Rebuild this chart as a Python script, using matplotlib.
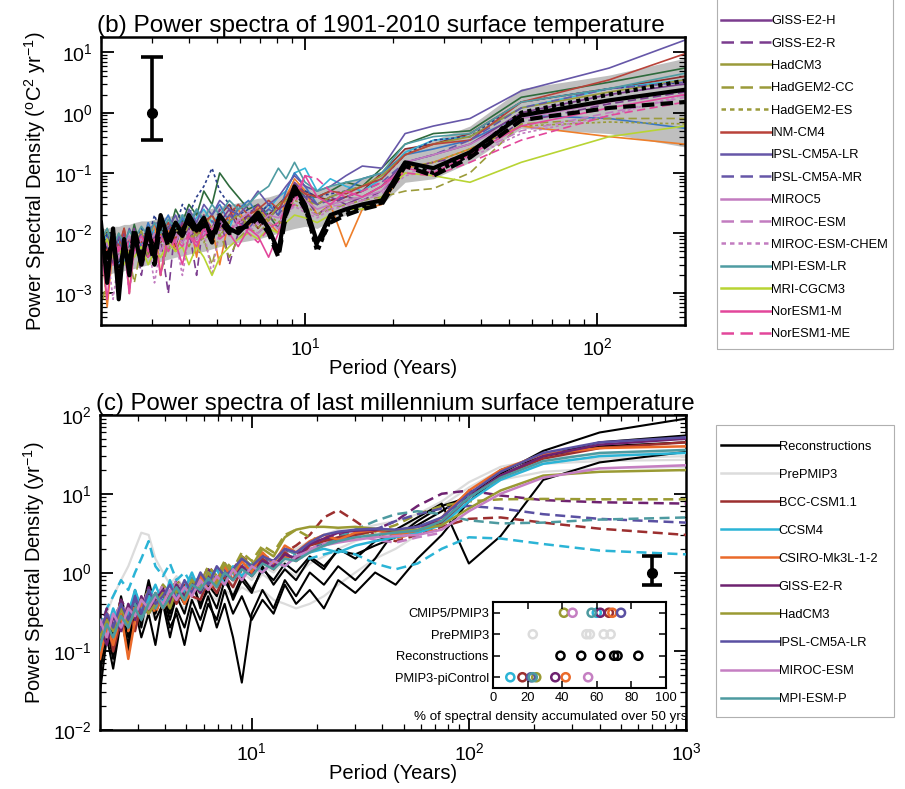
import numpy as np
import matplotlib
matplotlib.use("Agg")
import matplotlib.pyplot as plt
from matplotlib.lines import Line2D
from matplotlib.patches import Rectangle

plt.rcParams['font.family'] = ['Liberation Sans', 'DejaVu Sans']
plt.rcParams['mathtext.fontset'] = 'custom'
plt.rcParams['mathtext.rm'] = 'Liberation Sans'
plt.rcParams['mathtext.it'] = 'Liberation Sans:italic'
plt.rcParams['mathtext.bf'] = 'Liberation Sans:bold'

# ---------------- panel (b) data ----------------
period_b = [2.0, 2.1, 2.2, 2.3, 2.4, 2.5, 2.6, 2.75, 2.9, 3.05, 3.2, 3.4, 3.6, 3.8, 4.0, 4.25, 4.5, 4.8, 5.1, 5.5,
            5.9, 6.4, 6.9, 7.5, 8.1, 8.6, 9.2, 10.0, 11.0, 12.2, 13.8, 15.7, 18.3, 22.0, 27.5, 36.7, 55.0, 110.0, 200.0]

obs_solid = [0.015, 0.0015, 0.012, 0.0008, 0.008, 0.002, 0.01, 0.003, 0.012, 0.004, 0.02, 0.008, 0.015, 0.01, 0.02, 0.012, 0.018, 0.008, 0.02, 0.012,
             0.01, 0.015, 0.022, 0.012, 0.005, 0.025, 0.06, 0.03, 0.007, 0.02, 0.025, 0.03, 0.035, 0.15, 0.12, 0.22, 0.9, 1.6, 2.4]
obs_dashed = [0.01, 0.004, 0.008, 0.002, 0.006, 0.003, 0.012, 0.004, 0.009, 0.003, 0.015, 0.006, 0.012, 0.009, 0.015, 0.01, 0.014, 0.007, 0.016, 0.01,
              0.012, 0.013, 0.018, 0.01, 0.004, 0.02, 0.05, 0.025, 0.006, 0.015, 0.02, 0.025, 0.03, 0.13, 0.09, 0.18, 0.75, 1.2, 1.5]
obs_dotted = [0.012, 0.003, 0.01, 0.0015, 0.007, 0.0025, 0.01, 0.003, 0.011, 0.005, 0.018, 0.007, 0.013, 0.011, 0.018, 0.011, 0.016, 0.009, 0.018, 0.011,
              0.011, 0.014, 0.02, 0.011, 0.0045, 0.022, 0.055, 0.028, 0.005, 0.017, 0.022, 0.028, 0.032, 0.14, 0.1, 0.2, 1.0, 2.0, 3.4]

band_lo = [0.002, 0.002, 0.0022, 0.0022, 0.0024, 0.0025, 0.0026, 0.0028, 0.003, 0.0032, 0.0034, 0.0037, 0.004, 0.0042, 0.0045, 0.0048, 0.005, 0.0055, 0.006, 0.0065,
           0.007, 0.0075, 0.008, 0.009, 0.01, 0.011, 0.012, 0.013, 0.012, 0.016, 0.02, 0.024, 0.03, 0.07, 0.08, 0.15, 0.55, 0.45, 0.27]
band_hi = [0.012, 0.012, 0.013, 0.013, 0.014, 0.014, 0.015, 0.016, 0.016, 0.017, 0.018, 0.019, 0.02, 0.021, 0.022, 0.023, 0.024, 0.026, 0.028, 0.03,
           0.032, 0.035, 0.038, 0.04, 0.045, 0.05, 0.07, 0.065, 0.05, 0.06, 0.07, 0.085, 0.1, 0.25, 0.35, 0.6, 2.5, 4.2, 8.0]

access10 = [0.015, 0.005, 0.012, 0.004, 0.009, 0.006, 0.014, 0.005, 0.01, 0.007, 0.02, 0.009, 0.025, 0.015, 0.03, 0.02, 0.05, 0.03, 0.1, 0.06,
            0.04, 0.025, 0.03, 0.02, 0.012, 0.03, 0.06, 0.04, 0.04, 0.05, 0.07, 0.06, 0.12, 0.3, 0.45, 0.5, 1.8, 3.2, 5.5]
bcccsm11 = [0.012, 0.004, 0.009, 0.005, 0.012, 0.003, 0.008, 0.006, 0.004, 0.01, 0.007, 0.013, 0.006, 0.015, 0.01, 0.008, 0.016, 0.012, 0.02, 0.03,
            0.015, 0.02, 0.012, 0.02, 0.03, 0.04, 0.06, 0.05, 0.04, 0.035, 0.04, 0.05, 0.1, 0.25, 0.3, 0.45, 1.5, 2.5, 4.0]
ccsm4_b = [0.006, 0.01, 0.004, 0.008, 0.003, 0.007, 0.005, 0.01, 0.006, 0.012, 0.008, 0.015, 0.01, 0.02, 0.012, 0.018, 0.025, 0.015, 0.02, 0.012,
           0.03, 0.02, 0.015, 0.025, 0.04, 0.05, 0.1, 0.12, 0.05, 0.08, 0.06, 0.05, 0.08, 0.22, 0.35, 0.4, 1.2, 2.5, 3.5]
csiro36 = [0.008, 0.0006, 0.006, 0.002, 0.012, 0.001, 0.008, 0.003, 0.007, 0.015, 0.002, 0.012, 0.005, 0.009, 0.02, 0.004, 0.02, 0.012, 0.003, 0.018,
           0.025, 0.012, 0.03, 0.015, 0.01, 0.04, 0.08, 0.05, 0.02, 0.03, 0.006, 0.025, 0.03, 0.12, 0.15, 0.25, 0.6, 0.4, 0.3]
gfdlcm3 = [0.01, 0.006, 0.012, 0.003, 0.008, 0.005, 0.01, 0.006, 0.015, 0.008, 0.012, 0.02, 0.01, 0.018, 0.012, 0.025, 0.015, 0.02, 0.03, 0.015,
           0.025, 0.035, 0.02, 0.03, 0.02, 0.05, 0.1, 0.06, 0.03, 0.04, 0.05, 0.08, 0.1, 0.2, 0.25, 0.35, 0.9, 0.8, 0.55]
gfdlesm2m = [0.006, 0.01, 0.004, 0.008, 0.005, 0.009, 0.006, 0.012, 0.008, 0.02, 0.01, 0.015, 0.012, 0.03, 0.02, 0.04, 0.06, 0.12, 0.05, 0.03,
             0.02, 0.025, 0.02, 0.03, 0.025, 0.04, 0.06, 0.05, 0.04, 0.045, 0.05, 0.06, 0.08, 0.2, 0.35, 0.4, 1.5, 2.5, 3.2]
gisse2h = [0.005, 0.008, 0.003, 0.006, 0.01, 0.004, 0.007, 0.003, 0.005, 0.009, 0.012, 0.006, 0.01, 0.015, 0.008, 0.012, 0.02, 0.01, 0.015, 0.025,
           0.012, 0.02, 0.03, 0.018, 0.025, 0.03, 0.07, 0.045, 0.03, 0.04, 0.03, 0.04, 0.06, 0.15, 0.2, 0.3, 1.0, 2.0, 3.0]
gisse2r = [0.008, 0.003, 0.006, 0.0008, 0.008, 0.005, 0.012, 0.002, 0.009, 0.004, 0.008, 0.001, 0.015, 0.007, 0.012, 0.002, 0.018, 0.012, 0.025, 0.003,
           0.01, 0.02, 0.015, 0.02, 0.012, 0.025, 0.045, 0.04, 0.02, 0.03, 0.04, 0.035, 0.05, 0.12, 0.15, 0.2, 0.7, 1.4, 2.2]
hadcm3_b = [0.007, 0.012, 0.005, 0.01, 0.004, 0.008, 0.006, 0.011, 0.004, 0.007, 0.01, 0.005, 0.012, 0.008, 0.014, 0.009, 0.013, 0.02, 0.011, 0.016,
            0.02, 0.014, 0.025, 0.016, 0.03, 0.035, 0.05, 0.035, 0.03, 0.04, 0.05, 0.06, 0.09, 0.2, 0.3, 0.4, 1.2, 2.2, 3.5]
hadgem2cc = [0.0005, 0.002, 0.005, 0.001, 0.006, 0.004, 0.0015, 0.006, 0.005, 0.008, 0.002, 0.007, 0.005, 0.009, 0.006, 0.011, 0.008, 0.003, 0.01, 0.004,
             0.008, 0.012, 0.01, 0.015, 0.012, 0.02, 0.03, 0.025, 0.02, 0.025, 0.03, 0.035, 0.04, 0.05, 0.055, 0.1, 0.65, 0.8, 0.8]
hadgem2es = [0.006, 0.003, 0.008, 0.004, 0.007, 0.005, 0.009, 0.004, 0.006, 0.01, 0.007, 0.005, 0.009, 0.012, 0.008, 0.011, 0.007, 0.013, 0.009, 0.015,
             0.011, 0.018, 0.012, 0.02, 0.015, 0.022, 0.035, 0.03, 0.02, 0.03, 0.035, 0.04, 0.06, 0.12, 0.15, 0.25, 0.6, 0.7, 0.65]
inmcm4 = [0.009, 0.005, 0.01, 0.006, 0.012, 0.004, 0.009, 0.007, 0.012, 0.006, 0.01, 0.015, 0.008, 0.013, 0.018, 0.01, 0.015, 0.02, 0.012, 0.02,
          0.03, 0.02, 0.025, 0.035, 0.025, 0.04, 0.06, 0.045, 0.04, 0.05, 0.045, 0.06, 0.08, 0.2, 0.3, 0.35, 1.5, 3.5, 9.5]
ipslcm5alr = [0.01, 0.006, 0.004, 0.009, 0.006, 0.012, 0.008, 0.005, 0.01, 0.015, 0.008, 0.012, 0.02, 0.01, 0.025, 0.015, 0.03, 0.02, 0.035, 0.025,
              0.02, 0.03, 0.05, 0.03, 0.04, 0.06, 0.09, 0.06, 0.05, 0.06, 0.09, 0.13, 0.12, 0.45, 0.6, 0.8, 2.3, 5.5, 16.0]
ipslcm5amr = [0.006, 0.009, 0.004, 0.007, 0.005, 0.008, 0.006, 0.01, 0.007, 0.005, 0.009, 0.013, 0.007, 0.011, 0.009, 0.014, 0.01, 0.016, 0.012, 0.02,
              0.015, 0.012, 0.018, 0.025, 0.02, 0.03, 0.05, 0.04, 0.03, 0.035, 0.04, 0.05, 0.07, 0.15, 0.2, 0.35, 1.2, 2.5, 3.2]
miroc5 = [0.005, 0.003, 0.007, 0.004, 0.006, 0.009, 0.005, 0.008, 0.006, 0.01, 0.005, 0.009, 0.007, 0.012, 0.009, 0.014, 0.01, 0.012, 0.018, 0.01,
          0.016, 0.022, 0.014, 0.02, 0.018, 0.025, 0.04, 0.035, 0.025, 0.03, 0.035, 0.04, 0.05, 0.15, 0.2, 0.3, 0.8, 1.5, 2.5]
mirocesm = [0.004, 0.007, 0.003, 0.005, 0.004, 0.006, 0.005, 0.003, 0.007, 0.005, 0.008, 0.006, 0.01, 0.007, 0.011, 0.008, 0.012, 0.009, 0.014, 0.011,
            0.017, 0.013, 0.01, 0.015, 0.012, 0.02, 0.03, 0.025, 0.02, 0.028, 0.03, 0.035, 0.045, 0.1, 0.12, 0.2, 0.5, 1.0, 1.8]
mirocesmchem = [0.003, 0.005, 0.0008, 0.004, 0.006, 0.001, 0.005, 0.004, 0.007, 0.0015, 0.006, 0.005, 0.008, 0.002, 0.009, 0.007, 0.011, 0.002, 0.012, 0.009,
                0.014, 0.011, 0.016, 0.012, 0.015, 0.02, 0.028, 0.022, 0.018, 0.025, 0.028, 0.03, 0.04, 0.09, 0.11, 0.18, 0.45, 0.9, 2.0]
mpiesmlr = [0.008, 0.012, 0.006, 0.01, 0.007, 0.011, 0.008, 0.013, 0.009, 0.015, 0.01, 0.017, 0.012, 0.02, 0.014, 0.025, 0.017, 0.03, 0.02, 0.035,
            0.025, 0.03, 0.045, 0.06, 0.12, 0.08, 0.15, 0.07, 0.05, 0.06, 0.07, 0.08, 0.1, 0.3, 0.4, 0.45, 1.5, 2.5, 4.5]
mricgcm3 = [0.005, 0.008, 0.004, 0.006, 0.003, 0.005, 0.004, 0.006, 0.003, 0.005, 0.004, 0.007, 0.005, 0.006, 0.003, 0.006, 0.004, 0.002, 0.004, 0.006,
            0.008, 0.01, 0.008, 0.012, 0.01, 0.015, 0.02, 0.018, 0.015, 0.02, 0.025, 0.025, 0.04, 0.1, 0.09, 0.07, 0.15, 0.4, 0.6]
noresm1m = [0.006, 0.0008, 0.008, 0.005, 0.007, 0.001, 0.006, 0.009, 0.005, 0.008, 0.002, 0.01, 0.007, 0.003, 0.009, 0.006, 0.012, 0.008, 0.014, 0.01,
            0.006, 0.012, 0.009, 0.004, 0.01, 0.02, 0.04, 0.09, 0.04, 0.03, 0.05, 0.04, 0.06, 0.12, 0.1, 0.2, 0.6, 1.2, 2.0]
noresm1me = [0.007, 0.005, 0.003, 0.006, 0.004, 0.008, 0.005, 0.007, 0.004, 0.006, 0.009, 0.005, 0.008, 0.006, 0.01, 0.007, 0.009, 0.012, 0.008, 0.011,
             0.015, 0.01, 0.007, 0.012, 0.015, 0.025, 0.03, 0.09, 0.08, 0.05, 0.04, 0.05, 0.07, 0.1, 0.09, 0.15, 0.35, 0.9, 1.5]

models_b = ["ACCESS1-0", "BCC-CSM1-1", "CCSM4", "CSIRO-Mk3-6-0", "GFDL-CM3", "GFDL-ESM2M",
            "GISS-E2-H", "GISS-E2-R", "HadCM3", "HadGEM2-CC", "HadGEM2-ES", "INM-CM4",
            "IPSL-CM5A-LR", "IPSL-CM5A-MR", "MIROC5", "MIROC-ESM", "MIROC-ESM-CHEM",
            "MPI-ESM-LR", "MRI-CGCM3", "NorESM1-M", "NorESM1-ME"]
values_b = [access10, bcccsm11, ccsm4_b, csiro36, gfdlcm3, gfdlesm2m, gisse2h, gisse2r, hadcm3_b,
            hadgem2cc, hadgem2es, inmcm4, ipslcm5alr, ipslcm5amr, miroc5, mirocesm, mirocesmchem,
            mpiesmlr, mricgcm3, noresm1m, noresm1me]
legend_b = models_b[6:]      # entries visible in the (cropped) legend
errbar_b = [3.0, 1.0, 0.35, 8.3]   # x, centre, low, high

# ---------------- panel (c) data ----------------
period_c = [2.0, 2.15, 2.3, 2.5, 2.7, 2.9, 3.1, 3.35, 3.6, 3.9, 4.2, 4.5, 4.9, 5.3, 5.8, 6.3, 6.9, 7.5, 8.2, 9.0,
            10.0, 11.2, 12.6, 14.2, 16.0, 18.5, 21.5, 25.0, 30.0, 37.0, 46.0, 58.0, 75.0, 100.0, 140.0, 220.0, 400.0, 1000.0]

recon1 = [0.05, 0.2, 0.08, 0.3, 0.12, 0.5, 0.2, 0.6, 0.25, 0.4, 0.15, 0.35, 0.2, 0.45, 0.25, 0.5, 0.2, 0.4, 0.15, 0.04,
          0.3, 0.6, 0.35, 0.8, 0.5, 1.0, 0.7, 1.2, 0.8, 1.5, 3.5, 5.0, 7.5, 1.3, 2.9, 15.0, 25.0, 34.0]
recon2 = [0.1, 0.3, 0.15, 0.5, 0.2, 0.6, 0.3, 0.8, 0.35, 0.7, 0.3, 0.6, 0.4, 0.9, 0.35, 0.7, 0.5, 1.0, 0.45, 0.8,
          0.55, 1.2, 0.7, 1.1, 0.8, 1.5, 1.1, 2.0, 1.5, 2.5, 3.0, 4.0, 6.0, 10.0, 18.0, 35.0, 60.0, 90.0]
recon3 = [0.03, 0.15, 0.06, 0.25, 0.1, 0.35, 0.15, 0.3, 0.12, 0.45, 0.2, 0.3, 0.12, 0.35, 0.18, 0.4, 0.25, 0.6, 0.3, 0.5,
          0.25, 0.45, 0.3, 0.7, 0.4, 0.6, 0.35, 0.8, 0.55, 1.0, 0.7, 1.5, 3.0, 8.0, 17.0, 30.0, 45.0, 55.0]
recon4 = [0.08, 0.25, 0.1, 0.4, 0.15, 0.5, 0.25, 0.7, 0.3, 0.55, 0.25, 0.5, 0.3, 0.7, 0.4, 0.6, 0.35, 0.8, 0.5, 0.9,
          0.6, 1.1, 0.8, 1.3, 1.0, 1.6, 1.2, 1.9, 1.7, 2.2, 2.8, 4.5, 7.0, 9.0, 20.0, 30.0, 40.0, 45.0]

pre1 = [0.2, 0.3, 0.5, 0.8, 1.2, 2.0, 3.2, 3.0, 1.5, 1.0, 0.7, 0.9, 0.6, 0.8, 0.7, 1.0, 0.8, 1.1, 0.9, 1.3,
        1.0, 1.4, 1.2, 1.8, 2.0, 2.5, 3.0, 3.5, 3.2, 3.0, 3.5, 4.5, 7.0, 12.0, 20.0, 26.0, 28.0, 30.0]
pre2 = [0.1, 0.2, 0.12, 0.25, 0.15, 0.3, 0.2, 0.35, 0.25, 0.4, 0.3, 0.45, 0.35, 0.5, 0.4, 0.55, 0.45, 0.6, 0.5, 0.65,
        0.55, 0.6, 0.45, 0.4, 0.35, 0.4, 0.5, 0.7, 1.0, 1.5, 2.0, 3.0, 5.0, 10.0, 18.0, 24.0, 26.0, 27.0]
pre3 = [0.15, 0.25, 0.18, 0.3, 0.22, 0.35, 0.28, 0.45, 0.32, 0.5, 0.4, 0.55, 0.45, 0.7, 0.5, 0.8, 0.6, 0.9, 0.7, 1.0,
        0.8, 1.2, 1.0, 1.4, 1.5, 1.8, 2.2, 2.8, 3.5, 4.0, 4.5, 5.5, 8.0, 14.0, 22.0, 28.0, 32.0, 34.0]
pre4 = [0.12, 0.2, 0.15, 0.25, 0.2, 0.3, 0.25, 0.4, 0.3, 0.45, 0.35, 0.5, 0.4, 0.6, 0.45, 0.65, 0.5, 0.75, 0.55, 0.85,
        0.65, 0.95, 0.75, 1.1, 0.9, 1.3, 1.6, 2.0, 2.5, 3.0, 3.5, 4.0, 6.0, 10.0, 15.0, 19.0, 21.0, 22.0]

bcc_pm = [0.12, 0.3, 0.1, 0.25, 0.35, 0.18, 0.4, 0.3, 0.55, 0.35, 0.6, 0.4, 0.7, 0.5, 0.45, 0.8, 0.55, 0.9, 0.65, 1.1,
          1.0, 1.5, 1.1, 1.8, 1.4, 2.2, 2.5, 2.8, 3.0, 3.4, 3.2, 3.3, 4.2, 9.0, 17.0, 28.0, 38.0, 45.0]
ccsm4_pm = [0.1, 0.18, 0.35, 0.2, 0.3, 0.6, 0.35, 0.45, 0.7, 0.4, 0.8, 0.5, 0.6, 1.0, 0.55, 0.8, 1.1, 0.7, 1.2, 0.9,
            1.3, 1.0, 1.4, 1.2, 1.6, 1.8, 2.0, 1.8, 2.2, 2.5, 2.8, 3.2, 4.0, 8.0, 15.0, 24.0, 30.0, 33.0]
csiro_pm = [0.08, 0.2, 0.12, 0.3, 0.08, 0.25, 0.4, 0.3, 0.5, 0.35, 0.45, 0.7, 0.4, 0.6, 0.9, 0.6, 0.8, 1.2, 0.8, 1.4,
            1.0, 1.8, 1.3, 2.2, 1.8, 2.5, 3.0, 2.6, 3.2, 3.5, 3.0, 3.4, 5.0, 11.0, 20.0, 32.0, 38.0, 40.0]
giss_pm = [0.2, 0.12, 0.28, 0.18, 0.4, 0.25, 0.5, 0.3, 0.45, 0.6, 0.4, 0.7, 0.5, 0.75, 0.55, 0.9, 0.7, 1.0, 0.8, 1.2,
           0.9, 1.4, 1.2, 1.7, 1.5, 2.3, 2.7, 3.2, 3.4, 3.5, 3.4, 3.8, 4.5, 9.0, 17.0, 30.0, 42.0, 50.0]
hadcm3_pm = [0.15, 0.25, 0.18, 0.35, 0.22, 0.3, 0.45, 0.3, 0.4, 0.55, 0.35, 0.6, 0.45, 0.8, 0.6, 1.0, 0.7, 1.3, 1.0, 1.6,
             1.2, 2.0, 1.6, 2.8, 3.5, 3.8, 3.8, 3.7, 3.8, 3.6, 3.4, 3.5, 4.0, 6.5, 11.0, 17.0, 19.0, 20.0]
ipsl_pm = [0.18, 0.3, 0.2, 0.4, 0.25, 0.5, 0.3, 0.6, 0.4, 0.5, 0.7, 0.45, 0.8, 0.55, 1.0, 0.7, 1.2, 0.9, 1.1, 1.5,
           1.2, 1.6, 1.4, 2.0, 1.8, 2.4, 3.0, 3.3, 3.5, 3.6, 3.5, 3.8, 5.0, 10.0, 19.0, 33.0, 45.0, 52.0]
miroc_pm = [0.25, 0.15, 0.3, 0.2, 0.35, 0.28, 0.45, 0.35, 0.5, 0.4, 0.6, 0.45, 0.65, 0.5, 0.8, 0.6, 0.9, 0.7, 1.1, 0.8,
            1.2, 1.0, 1.4, 1.2, 1.6, 1.9, 2.2, 2.4, 2.6, 2.8, 2.9, 3.0, 3.5, 6.0, 10.0, 16.0, 21.0, 23.0]
mpi_pm = [0.12, 0.22, 0.15, 0.28, 0.2, 0.35, 0.25, 0.4, 0.55, 0.35, 0.5, 0.65, 0.45, 0.7, 0.6, 0.85, 0.65, 1.0, 0.8, 1.1,
          0.9, 1.3, 1.1, 1.5, 1.4, 1.8, 2.2, 2.5, 2.8, 3.0, 3.2, 3.4, 4.5, 9.0, 16.0, 26.0, 33.0, 36.0]

bcc_ctl = [0.15, 0.3, 0.2, 0.45, 0.25, 0.5, 0.35, 0.6, 0.4, 0.7, 0.5, 0.8, 0.6, 0.9, 0.7, 1.2, 0.9, 1.3, 1.1, 1.6,
           1.3, 1.5, 1.4, 1.8, 2.2, 3.0, 5.0, 6.2, 4.5, 3.0, 2.5, 3.0, 3.8, 4.8, 5.0, 4.3, 3.6, 3.0]
ccsm4_ctl = [0.2, 0.35, 0.5, 0.8, 0.6, 1.0, 1.5, 2.5, 1.2, 0.9, 1.3, 0.8, 1.0, 0.7, 0.9, 1.1, 0.8, 1.2, 0.9, 1.3,
             1.1, 1.5, 1.3, 1.8, 1.6, 1.5, 1.7, 1.9, 1.7, 1.3, 1.1, 1.3, 2.0, 2.8, 2.7, 2.3, 1.9, 1.7]
csiro_ctl = [0.1, 0.25, 0.12, 0.3, 0.18, 0.4, 0.25, 0.5, 0.3, 0.55, 0.4, 0.65, 0.45, 0.75, 0.55, 0.9, 0.65, 1.0, 0.8, 1.2,
             0.9, 1.4, 1.1, 1.6, 1.4, 1.9, 2.2, 2.5, 2.8, 3.0, 2.7, 3.2, 3.5]
giss_ctl = [0.18, 0.35, 0.22, 0.45, 0.3, 0.55, 0.35, 0.65, 0.4, 0.7, 0.5, 0.8, 0.6, 0.9, 0.7, 1.1, 0.8, 1.3, 1.0, 1.5,
            1.2, 1.7, 1.4, 2.0, 1.7, 2.3, 2.6, 3.0, 3.2, 3.5, 4.5, 7.0, 10.0, 11.0, 9.5, 8.3, 7.8, 7.5]
hadcm3_ctl = [0.2, 0.3, 0.25, 0.4, 0.3, 0.5, 0.4, 0.6, 0.45, 0.7, 0.55, 0.8, 0.6, 0.9, 0.7, 1.2, 0.9, 1.4, 1.1, 1.8,
              1.4, 2.2, 1.8, 3.0, 3.5, 2.8, 2.5, 2.6, 3.0, 3.3, 4.0, 5.5, 7.0, 8.0, 8.5, 8.6, 8.5, 8.5]
ipsl_ctl = [0.15, 0.25, 0.2, 0.35, 0.25, 0.45, 0.3, 0.55, 0.35, 0.6, 0.45, 0.7, 0.5, 0.8, 0.6, 0.95, 0.7, 1.1, 0.85, 1.3,
            1.0, 1.5, 1.2, 1.7, 1.5, 2.0, 2.3, 2.6, 3.0, 3.5, 4.5, 5.5, 6.5, 7.0, 6.5, 5.5, 4.8, 4.3]
miroc_ctl = [0.2, 0.3, 0.25, 0.4, 0.3, 0.5, 0.35, 0.6, 0.45, 0.7, 0.5, 0.8, 0.6, 0.9, 0.7, 1.0, 0.8, 1.2, 0.9, 1.3,
             1.1, 1.5, 1.3, 1.8, 1.6, 2.0, 2.3, 2.7, 3.0, 2.6, 2.4, 2.8, 3.2]
mpi_ctl = [0.12, 0.2, 0.15, 0.3, 0.2, 0.4, 0.28, 0.5, 0.35, 0.6, 0.45, 0.7, 0.55, 0.85, 0.65, 1.0, 0.8, 1.2, 0.95, 1.4,
           1.1, 1.7, 1.3, 2.0, 1.7, 2.5, 2.2, 2.8, 3.5, 4.5, 5.5, 6.0, 5.5, 4.6, 4.2, 4.3, 4.7, 5.0]

models_c = ["BCC-CSM1.1", "CCSM4", "CSIRO-Mk3L-1-2", "GISS-E2-R", "HadCM3", "IPSL-CM5A-LR", "MIROC-ESM", "MPI-ESM-P"]
pmip3_c = [bcc_pm, ccsm4_pm, csiro_pm, giss_pm, hadcm3_pm, ipsl_pm, miroc_pm, mpi_pm]
control_c = [bcc_ctl, ccsm4_ctl, csiro_ctl, giss_ctl, hadcm3_ctl, ipsl_ctl, miroc_ctl, mpi_ctl]
recons_c = [recon1, recon2, recon3, recon4]
prepmip3_c = [pre1, pre2, pre3, pre4]
errbar_c = [700.0, 1.0, 0.7, 1.64]

# inset: % of spectral density accumulated over 50 yrs
inset_rows = ["PMIP3-piControl", "Reconstructions", "PrePMIP3", "CMIP5/PMIP3"]
pct_cmip5 = [67, 60, 69, 62, 41, 74, 46, 57]        # order of models_c
pct_control = [17, 10, 42, 36, 25, 22, 55, 23]      # order of models_c
pct_prepmip3 = [23, 54, 56, 64, 68]
pct_recons = [39, 51, 62, 70, 72, 84]

# ---------------- styles ----------------
col_b = {"ACCESS1-0": "#2e6a3c", "BCC-CSM1-1": "#8c2c2c", "CCSM4": "#35b4d9", "CSIRO-Mk3-6-0": "#ee7e2a",
         "GFDL-CM3": "#3b78c2", "GFDL-ESM2M": "#2c3f8c", "GISS-E2-H": "#7b3c8e", "GISS-E2-R": "#7b3c8e",
         "HadCM3": "#9b9b3a", "HadGEM2-CC": "#9b9b3a", "HadGEM2-ES": "#9b9b3a", "INM-CM4": "#b9433a",
         "IPSL-CM5A-LR": "#6657a8", "IPSL-CM5A-MR": "#6657a8", "MIROC5": "#c27cc0", "MIROC-ESM": "#c27cc0",
         "MIROC-ESM-CHEM": "#c27cc0", "MPI-ESM-LR": "#4f9ca2", "MRI-CGCM3": "#b8d433", "NorESM1-M": "#e2479b",
         "NorESM1-ME": "#e2479b"}
DASH = (0, (5, 2.6))
DOT = (0, (1.8, 1.6))
ls_b = {"GFDL-ESM2M": DOT, "GISS-E2-R": DASH, "HadGEM2-CC": DASH, "HadGEM2-ES": DOT, "IPSL-CM5A-MR": DASH,
        "MIROC-ESM": DASH, "MIROC-ESM-CHEM": DOT, "NorESM1-ME": DASH}
col_c = {"BCC-CSM1.1": "#9c2f2f", "CCSM4": "#2bb4d6", "CSIRO-Mk3L-1-2": "#ea6a2a", "GISS-E2-R": "#6e2270",
         "HadCM3": "#9a9a33", "IPSL-CM5A-LR": "#5a50a2", "MIROC-ESM": "#c57fc2", "MPI-ESM-P": "#4d9aa0"}
PRE_COL = "#dcdcdc"

W, H = 905, 789
fig = plt.figure(figsize=(W / 100, H / 100), dpi=100)


def px_axes(x0, y0, x1, y1):
    return fig.add_axes([x0 / W, 1 - y1 / H, (x1 - x0) / W, (y1 - y0) / H])


def px_frame(x0, y0, x1, y1):
    fig.patches.append(Rectangle((x0 / W, 1 - y1 / H), (x1 - x0) / W, (y1 - y0) / H, transform=fig.transFigure,
                                 fill=False, edgecolor='#b0b0b0', lw=0.8, zorder=20))


def style_log_axes(ax):
    ax.set_xscale('log')
    ax.set_yscale('log')
    ax.tick_params(which='both', direction='in', top=True, right=True, labelsize=14, pad=6)
    ax.tick_params(axis='x', which='both', pad=9)
    ax.tick_params(which='major', length=9, width=1.3)
    ax.tick_params(which='minor', length=4.5, width=0.9)
    for s in ax.spines.values():
        s.set_linewidth(1.8)


# ---------------- panel (b) ----------------
axb = px_axes(101, 37, 685, 325)
style_log_axes(axb)
axb.fill_between(period_b, band_lo, band_hi, color='#b4b4b4', alpha=0.85, lw=0, zorder=1.5)
for name, vals in zip(models_b, values_b):
    axb.plot(period_b, vals, color=col_b[name], linestyle=ls_b.get(name, '-'), lw=1.2, zorder=2)
axb.plot(period_b, obs_solid, color='k', lw=3.0, zorder=5)
axb.plot(period_b, obs_dashed, color='k', lw=3.0, linestyle=(0, (3, 1.5)), zorder=5)
axb.plot(period_b, obs_dotted, color='k', lw=3.0, linestyle=(0, (1, 1)), zorder=5)
axb.errorbar([errbar_b[0]], [errbar_b[1]], yerr=[[errbar_b[1] - errbar_b[2]], [errbar_b[3] - errbar_b[1]]],
             fmt='o', color='k', ms=7, lw=2.6, capsize=8, capthick=2.6, zorder=6)
axb.set_xlim(2, 200)
axb.set_ylim(3e-4, 18)
axb.set_xlabel('Period (Years)', fontsize=14.5, labelpad=0)
axb.set_ylabel(r'Power Spectral Density ($^{\rm o}$C$^{2}$ yr$^{-1}$)', fontsize=14.5, labelpad=4)
axb.set_title('(b) Power spectra of 1901-2010 surface temperature', fontsize=17.6, loc='left', x=-0.006, pad=3)

handles_b = [Line2D([], [], color=col_b[n], linestyle=ls_b.get(n, '-'), lw=1.8) for n in legend_b]
leg_b = fig.legend(handles_b, legend_b, loc='lower left', bbox_to_anchor=(716 / W, 1 - 345 / H, 177 / W, 0.5),
                   mode='expand', fontsize=9.3, handlelength=3.9, handletextpad=0.0, labelspacing=0.8,
                   borderpad=0.35, borderaxespad=0, frameon=False)
px_frame(717, -5, 893, 349)

# ---------------- panel (c) ----------------
axc = px_axes(100, 415, 686, 730)
style_log_axes(axc)
for vals in prepmip3_c:
    axc.plot(period_c[:len(vals)], vals, color=PRE_COL, lw=1.6, zorder=2)
for vals in recons_c:
    axc.plot(period_c[:len(vals)], vals, color='k', lw=1.5, zorder=3)
for name, vals in zip(models_c, control_c):
    axc.plot(period_c[:len(vals)], vals, color=col_c[name], lw=1.8, linestyle=(0, (4, 2.2)), zorder=4)
for name, vals in zip(models_c, pmip3_c):
    axc.plot(period_c[:len(vals)], vals, color=col_c[name], lw=1.8, zorder=5)
axc.errorbar([errbar_c[0]], [errbar_c[1]], yerr=[[errbar_c[1] - errbar_c[2]], [errbar_c[3] - errbar_c[1]]],
             fmt='o', color='k', ms=7, lw=2.6, capsize=7, capthick=2.6, zorder=6)
axc.set_xlim(2, 1000)
axc.set_ylim(0.01, 100)
axc.set_xlabel('Period (Years)', fontsize=14.5, labelpad=0)
axc.set_ylabel(r'Power Spectral Density (yr$^{-1}$)', fontsize=14.5, labelpad=4)
axc.set_title('(c) Power spectra of last millennium surface temperature', fontsize=17.2, loc='left', x=-0.006, pad=3)

leg_labels_c = ["Reconstructions", "PrePMIP3"] + models_c
leg_cols_c = ['k', PRE_COL] + [col_c[n] for n in models_c]
handles_c = [Line2D([], [], color=c, lw=1.8) for c in leg_cols_c]
leg_c = fig.legend(handles_c, leg_labels_c, loc='upper left', bbox_to_anchor=(716 / W, 0.0, 178 / W, 1 - 436 / H),
                   mode='expand', fontsize=9.3, handlelength=4.5, handletextpad=0.0, labelspacing=1.24,
                   borderpad=0.35, borderaxespad=0, frameon=False)
px_frame(716, 425, 894, 717)

# ---------------- inset ----------------
axi = px_axes(493, 602, 666, 688)
axi.set_zorder(10)
ms = 34
lw_m = 1.8
axi.scatter(pct_control, [0] * len(pct_control), s=ms, facecolors='none',
            edgecolors=[col_c[n] for n in models_c], linewidths=lw_m)
axi.scatter(pct_recons, [1] * len(pct_recons), s=ms, facecolors='none', edgecolors='k', linewidths=lw_m)
axi.scatter(pct_prepmip3, [2] * len(pct_prepmip3), s=ms, facecolors='none', edgecolors=PRE_COL, linewidths=lw_m)
axi.scatter(pct_cmip5, [3] * len(pct_cmip5), s=ms, facecolors='none',
            edgecolors=[col_c[n] for n in models_c], linewidths=lw_m)
axi.set_xlim(0, 100)
axi.set_ylim(-0.5, 3.5)
axi.set_xticks([0, 20, 40, 60, 80, 100])
axi.set_yticks(range(len(inset_rows)))
axi.set_yticklabels(inset_rows)
axi.tick_params(direction='in', top=True, right=True, labelsize=9.3, length=5, width=1.1, pad=3)
for s in axi.spines.values():
    s.set_linewidth(1.5)
axi.set_xlabel('% of spectral density accumulated over 50 yrs', fontsize=9.6)
axi.xaxis.set_label_coords(0.335, -0.27)

fig.savefig('out.png', dpi=100)
